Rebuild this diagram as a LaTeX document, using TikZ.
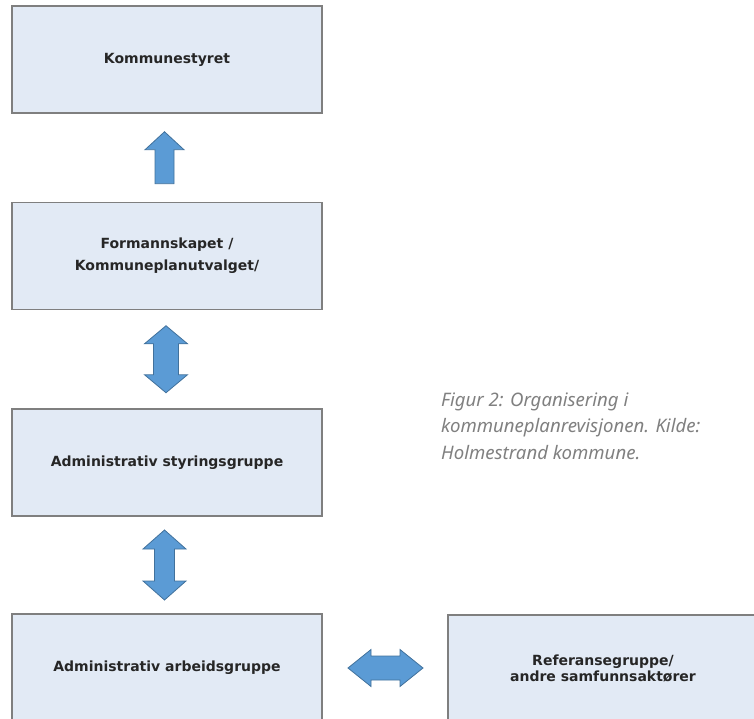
\documentclass[tikz,border=0pt]{standalone}
\usepackage{fontspec}
\setmainfont{Noto Sans}
\newfontfamily\boxfont{DejaVu Sans}
\usetikzlibrary{calc}

\definecolor{boxfill}{HTML}{E2EAF5}
\definecolor{boxline}{HTML}{7F7F7F}
\definecolor{arrowfill}{HTML}{5B9BD5}
\definecolor{arrowline}{HTML}{41719C}
\definecolor{captiongray}{HTML}{808080}

\tikzset{
  orgbox/.style={draw=boxline, line width=1.5pt, fill=boxfill, minimum width=310pt, minimum height=107pt, align=center, text=black!85, font=\boxfont\bfseries\fontsize{14}{22}\selectfont},
  blockarrow/.style={draw=arrowline, line width=0.8pt, fill=arrowfill, line join=miter},
  caption/.style={align=left, text=captiongray, inner sep=0pt, font=\itshape\fontsize{18.6}{26.5}\selectfont},
}

\begin{document}
\begin{tikzpicture}[x=1pt,y=-1pt]
    \useasboundingbox (0,0) rectangle (754,719);

    % boksene
    \node[orgbox] (komm) at (167,59.5) {Kommunestyret};
    \node[orgbox] (form) at (167,256) {Formannskapet /\\Kommuneplanutvalget/};
    \node[orgbox] (styr) at (167,462.5) {Administrativ styringsgruppe};
    \node[orgbox] (arb) at (167,667.5) {Administrativ arbeidsgruppe};
    \node[orgbox, font=\boxfont\bfseries\fontsize{14}{16.5}\selectfont] (ref) at (603,668.5) {Referansegruppe/\\andre samfunnsaktører};

    % pilene
    \coordinate (p1) at ($(komm.south)!0.5!(form.north)$);
    \coordinate (p2) at ($(form.south)!0.5!(styr.north)$);
    \coordinate (p3) at ($(styr.south)!0.5!(arb.north)$);
    \coordinate (p4) at ($(arb.east)!0.5!(ref.west)$);

    \draw[blockarrow] ($(p1)+(-2.5,-26)$) -- ++(19.5,18) -- ++(-10,0) -- ++(0,34) -- ++(-19,0) -- ++(0,-34) -- ++(-10,0) -- cycle;
    \draw[blockarrow] ($(p2)+(-1,-33.5)$) -- ++(21.5,18) -- ++(-9,0) -- ++(0,31) -- ++(9,0) -- ++(-21.5,18) -- ++(-21.5,-18) -- ++(9,0) -- ++(0,-31) -- ++(-9,0) -- cycle;
    \draw[blockarrow] ($(p3)+(-2.5,-35)$) -- ++(21.5,19) -- ++(-11.5,0) -- ++(0,32) -- ++(11.5,0) -- ++(-21.5,19) -- ++(-21.5,-19) -- ++(11.5,0) -- ++(0,-32) -- ++(-11.5,0) -- cycle;
    \draw[blockarrow] ($(p4)+(-37,0)$) -- ++(23,-18.5) -- ++(0,6.5) -- ++(29,0) -- ++(0,-6.5) -- ++(23,18.5) -- ++(-23,18.5) -- ++(0,-6.5) -- ++(-29,0) -- ++(0,6.5) -- cycle;

    % figurtekst
    \node[caption, anchor=north west] (cap) at (441,392.5) {Figur 2: Organisering i\\kommuneplanrevisjonen. Kilde:\\Holmestrand kommune.};
\end{tikzpicture}
\end{document}
